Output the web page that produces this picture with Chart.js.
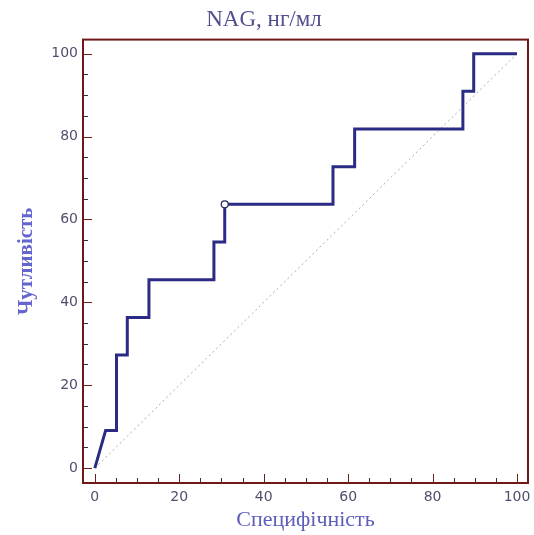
<!DOCTYPE html>
<html>
<head>
<meta charset="utf-8">
<script src="https://cdn.jsdelivr.net/npm/chart.js@4"></script>
<style>
  html, body { margin: 0; padding: 0; background: #fff; }
  #wrap { width: 534px; height: 535px; }
</style>
</head>
<body>
<div id="wrap"><canvas id="rocChart"></canvas></div>
<script>
// ROC: 100 - специфічність (x) та чутливість (y), вершини ступінчастої кривої
const roc_x = [0, 2.56, 5.13, 5.13, 7.69, 7.69, 12.82, 12.82, 28.21, 28.21, 30.77, 30.77,
               56.41, 56.41, 61.54, 61.54, 87.18, 87.18, 89.74, 89.74, 100];
const roc_y = [0, 9.09, 9.09, 27.27, 27.27, 36.36, 36.36, 45.45, 45.45, 54.55, 54.55, 63.64,
               63.64, 72.73, 72.73, 81.82, 81.82, 90.91, 90.91, 100, 100];
// точка відсікання
const cut_x = [30.77];
const cut_y = [63.64];
// діагональ
const diag_x = [0, 100];
const diag_y = [0, 100];
const tick_labels = [0, 20, 40, 60, 80, 100];

const toPts = (xs, ys) => xs.map((x, i) => ({ x: x, y: ys[i] }));
const tickLabel = v => {
    const r = Math.round(v);
    return Math.abs(v - r) < 1e-6 && tick_labels.includes(r) ? String(r) : "";
};

// рамка і внутрішні поділки
const frame = {
    id: "frame",
    afterDraw(chart) {
        const ctx = chart.ctx;
        const a = chart.chartArea;
        const sx = chart.scales.x, sy = chart.scales.y;
        ctx.save();
        ctx.lineWidth = 1;
        for (let v = 0; v <= 100; v += 5) {
            const len = v % 20 === 0 ? 9 : 5;
            ctx.strokeStyle = v % 20 === 0 ? "#6b2020" : "#333";
            const px = Math.round(sx.getPixelForValue(v)) + 0.5;
            ctx.beginPath(); ctx.moveTo(px, a.bottom); ctx.lineTo(px, a.bottom - len); ctx.stroke();
            const py = Math.round(sy.getPixelForValue(v)) + 0.5;
            ctx.beginPath(); ctx.moveTo(a.left, py); ctx.lineTo(a.left + len, py); ctx.stroke();
        }
        ctx.strokeStyle = "#701818";
        ctx.lineWidth = 2;
        ctx.strokeRect(a.left, a.top, a.right - a.left, a.bottom - a.top);
        ctx.restore();
    }
};

new Chart(document.getElementById("rocChart"), {
    type: "scatter",
    data: {
        datasets: [
            {
                data: toPts(cut_x, cut_y),
                pointRadius: 3.5,
                pointBackgroundColor: "#fff",
                pointBorderColor: "#222255",
                pointBorderWidth: 1.2,
                showLine: false
            },
            {
                data: toPts(roc_x, roc_y),
                showLine: true,
                borderColor: "#2b2b86",
                borderWidth: 3,
                pointRadius: 0,
                tension: 0
            },
            {
                data: toPts(diag_x, diag_y),
                showLine: true,
                borderColor: "#a8a8b8",
                borderWidth: 1,
                borderDash: [2, 3],
                pointRadius: 0
            }
        ]
    },
    options: {
        responsive: true,
        maintainAspectRatio: false,
        animation: false,
        layout: { padding: { left: 0, right: 6, top: 0, bottom: 0 } },
        plugins: {
            legend: { display: false },
            tooltip: { enabled: false },
            title: {
                display: true,
                text: "NAG, нг/мл",
                color: "#50508c",
                font: { family: "Liberation Serif", size: 23, weight: "normal" },
                padding: { top: 6, bottom: 6 }
            }
        },
        scales: {
            x: {
                type: "linear",
                min: -2.8,
                max: 102.6,
                grid: { display: false, drawTicks: false },
                border: { display: false },
                afterFit: s => { s.height = 52; s.paddingRight = 0; s.paddingLeft = 0; },
                ticks: {
                    stepSize: 5,
                    includeBounds: false,
                    autoSkip: false,
                    maxRotation: 0,
                    padding: 6,
                    color: "#50506e",
                    font: { family: "DejaVu Sans", size: 14 },
                    callback: tickLabel
                },
                title: {
                    display: true,
                    text: "Специфічність",
                    color: "#5d5dbb",
                    font: { family: "Liberation Serif", size: 22 },
                    padding: { top: 2, bottom: 2 }
                }
            },
            y: {
                type: "linear",
                min: -3.6,
                max: 103.4,
                grid: { display: false, drawTicks: false },
                border: { display: false },
                afterFit: s => { s.width = 83; s.paddingTop = 0; s.paddingBottom = 0; },
                ticks: {
                    stepSize: 5,
                    includeBounds: false,
                    autoSkip: false,
                    padding: 5,
                    color: "#50506e",
                    font: { family: "DejaVu Sans", size: 14 },
                    callback: tickLabel
                },
                title: {
                    display: true,
                    text: "Чутливість",
                    color: "#6565d0",
                    font: { family: "Liberation Serif", size: 21, weight: "bold" },
                    padding: { top: 14, bottom: 0 }
                }
            }
        }
    },
    plugins: [frame]
});
</script>
</body>
</html>
